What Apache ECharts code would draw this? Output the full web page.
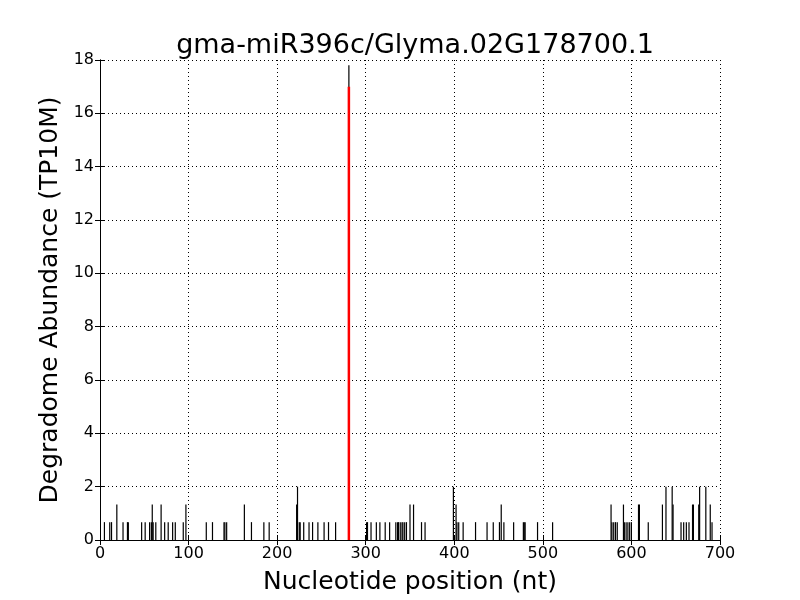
<!DOCTYPE html>
<html>
<head>
<meta charset="utf-8">
<script src="https://cdn.jsdelivr.net/npm/echarts@6/dist/echarts.min.js"></script>
<style>
  html, body { margin: 0; padding: 0; background: #fff; }
  #chart { width: 800px; height: 600px; }
</style>
</head>
<body>
<div id="chart"></div>
<script>
// degradome reads per nucleotide position
var positions = [5, 11, 13, 19, 26, 31, 32, 47, 51, 56, 58, 59, 60, 63, 69, 73, 77, 82, 85, 94, 97,
  120, 127, 140, 141, 143, 163, 171, 185, 191, 222, 223, 225, 226, 230, 236, 240, 246, 253, 258, 266,
  281, 301, 302, 306, 312, 316, 322, 327, 334, 336, 337, 339, 341, 342, 344, 346, 350, 354, 363, 367,
  399, 402, 403, 405, 410, 424, 437, 444, 451, 453, 456, 467, 478, 479, 480, 494, 511,
  577, 578, 580, 582, 584, 591, 592, 594, 596, 598, 600, 608, 609, 619, 635, 639, 646, 647,
  656, 659, 662, 665, 669, 670, 676, 677, 684, 689, 691];
var abundance = [0.67, 0.67, 0.67, 1.33, 0.67, 0.67, 0.67, 0.67, 0.67, 0.67, 0.67, 1.33, 0.67, 0.67, 1.33, 0.67, 0.67, 0.67, 0.67, 0.67, 1.33,
  0.67, 0.67, 0.67, 0.67, 0.67, 1.33, 0.67, 0.67, 0.67, 1.33, 2, 0.67, 0.67, 0.67, 0.67, 0.67, 0.67, 0.67, 0.67, 0.67,
  17.8, 0.67, 0.67, 0.67, 0.67, 0.67, 0.67, 0.67, 0.67, 0.67, 0.67, 0.67, 0.67, 0.67, 0.67, 0.67, 1.33, 1.33, 0.67, 0.67,
  2, 1.33, 0.67, 0.67, 0.67, 0.67, 0.67, 0.67, 0.67, 1.33, 0.67, 0.67, 0.67, 0.67, 0.67, 0.67, 0.67,
  1.33, 0.67, 0.67, 0.67, 0.67, 1.33, 0.67, 0.67, 0.67, 0.67, 0.67, 1.33, 1.33, 0.67, 1.33, 2, 2, 1.33,
  0.67, 0.67, 0.67, 0.67, 1.33, 1.33, 1.33, 2, 2, 1.33, 0.67];
// predicted cleavage site
var sitePos = [281];
var siteVal = [17];

var xTicks = [0, 100, 200, 300, 400, 500, 600, 700];
var yTicks = [0, 2, 4, 6, 8, 10, 12, 14, 16, 18];

var font = "DejaVu Sans";

function stick(width, color) {
  return function (params, api) {
    var top = api.coord([api.value(0), api.value(1)]);
    var base = api.coord([api.value(0), 0]);
    return {
      type: "line",
      shape: { x1: top[0], y1: top[1], x2: base[0], y2: base[1] },
      style: { stroke: color, lineWidth: width }
    };
  };
}

var chart = echarts.init(document.getElementById("chart"));
chart.setOption({
  animation: false,
  title: {
    text: "gma-miR396c/Glyma.02G178700.1",
    left: 410,
    textAlign: "center",
    top: 27,
    textStyle: { fontFamily: font, fontSize: 27, fontWeight: "normal", color: "#000" }
  },
  grid: { left: 100, right: 80, top: 60, bottom: 60 },
  xAxis: [{
    type: "value",
    min: xTicks[0], max: xTicks[xTicks.length - 1], interval: 100,
    name: "Nucleotide position (nt)",
    nameLocation: "middle", nameGap: 30,
    nameTextStyle: { fontFamily: font, fontSize: 25, color: "#000" },
    axisLine: { lineStyle: { color: "#000", width: 1 } },
    axisTick: { inside: true, length: 5, lineStyle: { color: "#000" } },
    axisLabel: { fontFamily: font, fontSize: 16, color: "#000", margin: 6 },
    splitLine: { show: true, lineStyle: { color: "#000", type: [1, 3], width: 1 } }
  }, {
    type: "value", position: "top",
    min: xTicks[0], max: xTicks[xTicks.length - 1], interval: 100,
    axisLine: { lineStyle: { color: "#000" } },
    axisTick: { inside: true, length: 5, lineStyle: { color: "#000" } },
    axisLabel: { show: false }, splitLine: { show: false }
  }],
  yAxis: [{
    type: "value",
    min: yTicks[0], max: yTicks[yTicks.length - 1], interval: 2,
    name: "Degradome Abundance (TP10M)",
    nameLocation: "middle", nameGap: 35,
    nameTextStyle: { fontFamily: font, fontSize: 25, color: "#000" },
    axisLine: { show: true, lineStyle: { color: "#000", width: 1 } },
    axisTick: { show: true, inside: true, length: 5, lineStyle: { color: "#000" } },
    axisLabel: { fontFamily: font, fontSize: 16, color: "#000", margin: 6 },
    splitLine: { show: true, lineStyle: { color: "#000", type: [1, 3], width: 1 } }
  }, {
    type: "value", position: "right",
    min: yTicks[0], max: yTicks[yTicks.length - 1], interval: 2,
    axisLine: { show: true, lineStyle: { color: "#000" } },
    axisTick: { show: true, inside: true, length: 5, lineStyle: { color: "#000" } },
    axisLabel: { show: false }, splitLine: { show: false }
  }],
  series: [{
    type: "custom",
    renderItem: stick(1.2, "#000"),
    data: positions.map(function (p, i) { return [p, abundance[i]]; }),
    z: 2
  }, {
    type: "custom",
    renderItem: stick(2.5, "#ff0000"),
    data: sitePos.map(function (p, i) { return [p, siteVal[i]]; }),
    z: 3
  }]
});
</script>
</body>
</html>
